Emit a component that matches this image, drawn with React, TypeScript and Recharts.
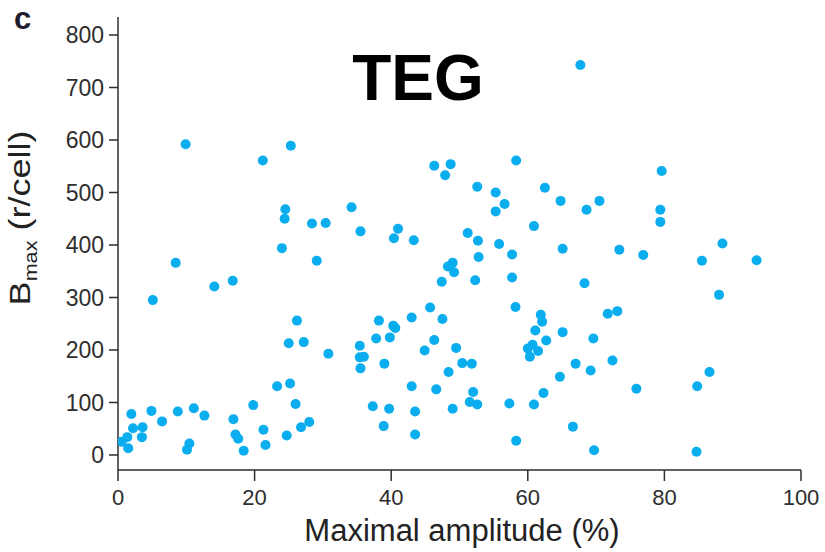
import React from 'react';
import { ScatterChart, Scatter, XAxis, YAxis } from 'recharts';

const amplitude = [
  9.9, 25.3, 21.2, 24.5, 24.4, 28.4, 30.4, 34.2, 24.0, 8.45, 29.1, 14.1, 16.8, 5.1, 26.2,
  25.0, 27.2, 30.8, 23.3, 25.2, 26.0, 19.8, 21.3, 21.6, 16.9, 17.2, 17.6, 18.4, 24.7, 26.8,
  28.0, 1.95, 4.9, 6.45, 8.75, 11.1, 12.65, 2.2, 3.6, 3.5, 1.36, 0.5, 1.5, 10.45, 10.1,
  46.3, 48.7, 47.9, 58.3, 52.6, 55.3, 56.6, 55.3, 62.5, 64.8, 35.5, 41.0, 40.4, 43.3, 60.9,
  51.2, 52.7, 55.8, 65.1, 57.7, 52.8, 49.0, 48.3, 49.2, 47.4, 52.3, 57.7, 45.7, 58.2, 38.2,
  43.0, 47.5, 61.9, 40.3, 40.6, 37.8, 39.8, 35.4, 35.4, 36.0, 35.5, 39.0, 46.3, 44.9, 49.5,
  50.4, 51.8, 48.4, 62.1, 61.1, 65.1, 62.7, 60.0, 60.7, 61.5, 60.3, 67.0, 64.7, 62.3, 57.3,
  60.9, 43.0, 46.6, 52.0, 51.5, 52.6, 37.3, 39.7, 43.5, 49.0, 38.9, 43.5, 58.3, 66.6, 79.6,
  68.6, 70.5, 79.4, 79.4, 73.4, 76.9, 88.5, 85.5, 93.5, 68.3, 88.0, 71.7, 73.1, 69.6, 69.2,
  72.4, 75.9, 86.6, 84.8, 69.7, 84.7, 67.7,
];

const bmax = [
  592, 589, 561, 468, 450, 441, 442, 472, 394, 366, 370, 321, 332, 295, 256,
  213, 215, 193, 131, 136, 97, 95, 48, 19, 68, 39, 31, 8, 37, 53,
  63, 78, 84, 64, 83, 89, 75, 51, 53, 34, 34, 25, 13, 22, 10,
  551, 554, 533, 561, 511, 500, 478, 464, 509, 484, 426, 431, 413, 409, 436,
  423, 408, 402, 393, 382, 377, 366, 359, 348, 330, 333, 338, 281, 282, 256,
  262, 259, 267, 246, 242, 222, 224, 208, 186, 187, 165, 174, 219, 199, 204,
  175, 174, 158, 254, 237, 234, 218, 203, 210, 198, 187, 174, 149, 118, 98,
  96, 131, 125, 120, 101, 96, 93, 88, 83, 88, 55, 39, 27, 54, 541,
  467, 484, 467, 444, 391, 381, 403, 370, 371, 327, 305, 269, 274, 222, 161,
  180, 126, 158, 131, 9, 6, 743,
];

const xTicks = [0, 20, 40, 60, 80, 100];
const yTicks = [0, 100, 200, 300, 400, 500, 600, 700, 800];

const data = amplitude.map((x, i) => ({ x, y: bmax[i] }));

const FONT = '"Liberation Sans", Arial, Helvetica, sans-serif';
const AXIS = '#2e2e2e';
const DOT = '#0AADEE';

const renderDot = (props: any) => (
  <circle cx={props.cx} cy={props.cy} r={5} fill={DOT} />
);

export default function App() {
  return (
    <div style={{ position: 'absolute', left: 0, top: 0, width: 825, height: 552, background: '#ffffff' }}>
      <ScatterChart width={825} height={552} margin={{ top: 17, right: 24, bottom: 0, left: 0 }}>
        <XAxis
          type="number"
          dataKey="x"
          domain={[0, 100]}
          ticks={xTicks}
          height={82}
          tickSize={11}
          tickMargin={8}
          axisLine={{ stroke: AXIS, strokeWidth: 1.5 }}
          tickLine={{ stroke: AXIS, strokeWidth: 1.5 }}
          tick={{ fill: AXIS, fontSize: 22, fontFamily: FONT }}
          allowDataOverflow
        />
        <YAxis
          type="number"
          dataKey="y"
          domain={[-28.6, 834.3]}
          ticks={yTicks}
          width={118}
          tickSize={9}
          tickMargin={5}
          axisLine={{ stroke: AXIS, strokeWidth: 1.5 }}
          tickLine={{ stroke: AXIS, strokeWidth: 1.5 }}
          tick={{ fill: AXIS, fontSize: 23, fontFamily: FONT }}
          allowDataOverflow
        />
        <Scatter data={data} isAnimationActive={false} shape={renderDot} />
      </ScatterChart>
      <svg
        width={825}
        height={552}
        style={{ position: 'absolute', left: 0, top: 0, pointerEvents: 'none' }}
      >
        <text x={14} y={29} fontSize={31} fontWeight="bold" fontFamily={FONT} fill="#1c1c2e">c</text>
        <text x={418} y={100} textAnchor="middle" fontSize={64} fontWeight="bold" fontFamily={FONT} fill="#000">TEG</text>
        <text x={462} y={541} textAnchor="middle" fontSize={31} fontFamily={FONT} fill="#222">Maximal amplitude (%)</text>
        <text transform="translate(30,218) rotate(-90) scale(1.2,1)" textAnchor="middle" fontSize={30} fontFamily={FONT} fill="#222">
          B<tspan fontSize={18} dy={7}>max</tspan><tspan dy={-7}> (r/cell)</tspan>
        </text>
      </svg>
    </div>
  );
}
